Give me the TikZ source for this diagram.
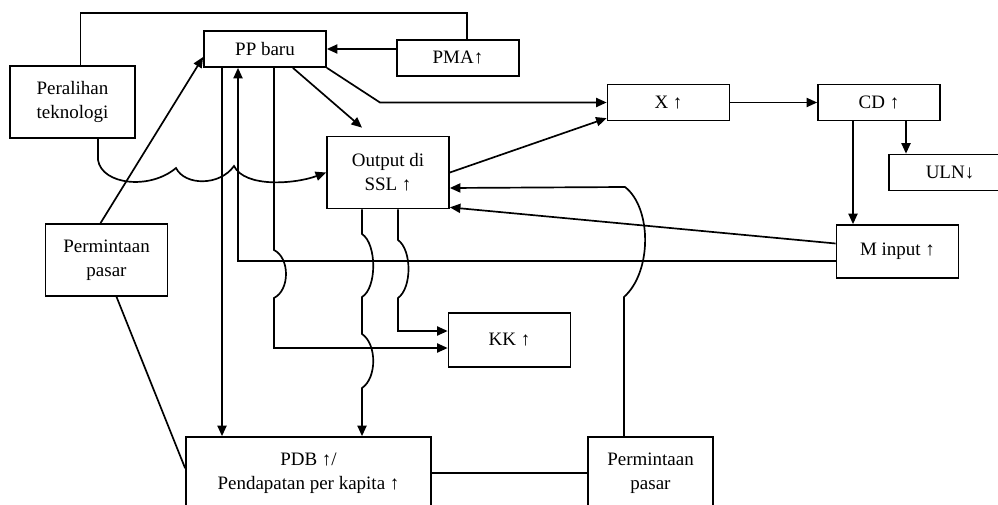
\documentclass[tikz,border=0pt]{standalone}
\usepackage{fontspec}
\setmainfont{Liberation Serif}
\usetikzlibrary{arrows.meta,calc}

\begin{document}
\begin{tikzpicture}[
    x={(0.025cm,0)}, y={(0,-0.025cm)},
    box/.style={draw, line width=1.2pt, align=center, minimum width=3.05cm, minimum height=0.9cm, inner sep=2pt, font=\fontsize{13.5}{17}\selectfont},
    tallbox/.style={box, minimum height=1.8cm},
    line/.style={line width=1.2pt},
    arr/.style={-{Triangle[length=7.5pt,width=6.5pt]}, line width=1.2pt}
]
\useasboundingbox (0,0) rectangle (998,505);
\clip (0,0) rectangle (998,505);

\node[box] (pp) at (265,49) {PP baru};
\node[box] (pma) at (458,58) {PMA↑};
\node[tallbox, minimum width=3.125cm] (tech) at (72.5,102) {Peralihan\\teknologi};
\node[box] (exp) at (668.5,102.5) {X ↑};
\node[box] (cd) at (879,102.5) {CD ↑};
\node[box] (uln) at (950,172.5) {ULN↓};
\node[tallbox] (out) at (388,172.5) {Output di\\SSL ↑};
\node[box, minimum height=1.325cm] (minput) at (897.5,251.5) {M input ↑};
\node[tallbox] (demand) at (106.5,260) {Permintaan\\pasar};
\node[box, minimum height=1.35cm] (kk) at (509.5,340) {KK ↑};
\node[tallbox, minimum width=6.125cm] (pdb) at (308.5,473) {PDB ↑/\\Pendapatan per kapita ↑};
\node[tallbox, minimum width=3.125cm] (demand2) at (650.5,473) {Permintaan\\pasar};

% top row
\draw[line] ([xshift=0.2cm]tech.north) |- (467,13) -- (pma.north -| 467,0);
\draw[arr] (pma.west |- pp.east) -- (pp.east);
\draw[arr] ([xshift=-0.15cm]demand.north) -- ([yshift=-0.2cm]pp.west);
\draw[line] ([xshift=0.25cm]demand.south) -- ([yshift=0.12cm]pdb.west);
\draw[arr] (pp.south east) -- (exp.west -| 380,0) -- (exp.west);
\draw[arr] ([xshift=-0.85cm]pp.south east) -- ([xshift=-0.65cm,yshift=0.2cm]out.north);
\draw[arr] (out.east) -- ([yshift=0.08cm]exp.south west);
\draw[arr] (exp) -- (cd);
\draw[arr] (cd.south -| 906,0) -- (uln.north -| 906,0);
\draw[arr] (cd.south -| 853,0) -- (minput.north -| 853,0);

% lines under PP baru
\draw[arr] (pp.south -| 222,0) -- (pdb.north -| 222,0);
\draw[arr] (minput.west |- 0,261) -| (pp.south -| 238,0);
\draw[arr] (pp.south -| 274,0) -- (274,250) .. controls (290,258) and (290,290) .. (274,298)
    -- (274,348) -- (kk.west |- 0,348);
\draw[arr] (tech.south -| 98,0) -- (98,160) .. controls (102,185) and (150,190) .. (176,168)
    .. controls (185,186) and (220,186) .. (234,166)
    .. controls (245,188) and (295,184) .. (out.west);

% lines under Output di SSL
\draw[arr] (out.south -| 362,0) -- (362,234) .. controls (377,244) and (377,288) .. (362,297)
    -- (362,334) .. controls (377,344) and (377,378) .. (362,388) -- (pdb.north -| 362,0);
\draw[arr] (out.south -| 398,0) -- (398,240) .. controls (412,250) and (412,288) .. (398,298)
    -- (398,331) -- (kk.west |- 0,331);

% right side
\draw[arr] ([yshift=0.2cm]minput.west) -- ([yshift=0.05cm]out.south east);
\draw[arr] (demand2.north -| 624,0) -- (624,297) .. controls (652,272) and (652,208) .. (625,187)
    -- (out.east |- 0,188);
\draw[line] (pdb) -- (demand2);
\end{tikzpicture}
\end{document}
